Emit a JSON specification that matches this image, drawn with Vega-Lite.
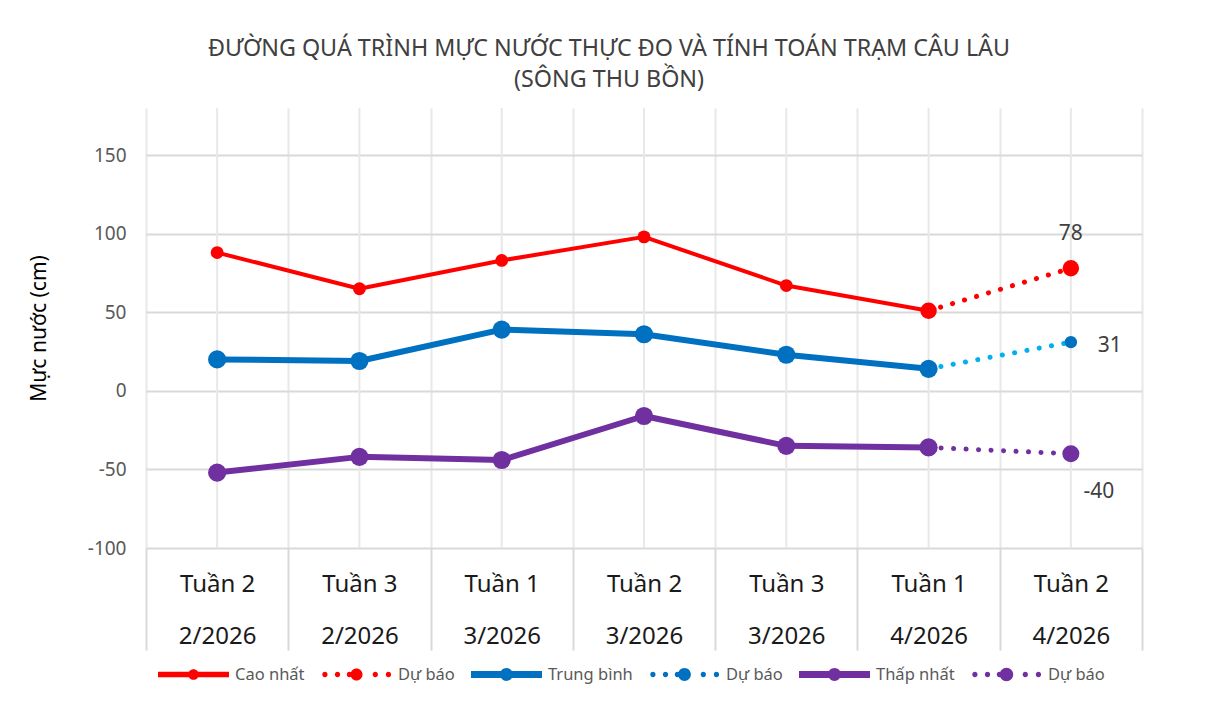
{
  "$schema": "https://vega.github.io/schema/vega-lite/v6.json",
  "width": 996,
  "height": 440,
  "autosize": {"type": "none"},
  "padding": {"left": 146, "top": 108, "right": 69, "bottom": 169},
  "background": "#ffffff",
  "config": {
    "view": {"stroke": null},
    "font": "Noto Sans"
  },
  "title": {
    "text": ["ĐƯỜNG QUÁ TRÌNH MỰC NƯỚC THỰC ĐO VÀ TÍNH TOÁN TRẠM CÂU LÂU", "(SÔNG THU BỒN)"],
    "fontSize": 23.3,
    "fontWeight": "normal",
    "color": "#404040",
    "lineHeight": 31,
    "anchor": "middle",
    "frame": "group",
    "dx": -35,
    "offset": 15
  },
  "datasets": {
    "cats": [
      {"cat": "Tuần 2|2/2026"}, {"cat": "Tuần 3|2/2026"}, {"cat": "Tuần 1|3/2026"}, {"cat": "Tuần 2|3/2026"},
      {"cat": "Tuần 3|3/2026"}, {"cat": "Tuần 1|4/2026"}, {"cat": "Tuần 2|4/2026"}
    ],
    "levels": [
      {"cat": "Tuần 2|2/2026", "series": "cao", "value": 88},
      {"cat": "Tuần 3|2/2026", "series": "cao", "value": 65},
      {"cat": "Tuần 1|3/2026", "series": "cao", "value": 83},
      {"cat": "Tuần 2|3/2026", "series": "cao", "value": 98},
      {"cat": "Tuần 3|3/2026", "series": "cao", "value": 67},
      {"cat": "Tuần 1|4/2026", "series": "cao", "value": 51},
      {"cat": "Tuần 1|4/2026", "series": "cao_db", "value": 51},
      {"cat": "Tuần 2|4/2026", "series": "cao_db", "value": 78},
      {"cat": "Tuần 2|2/2026", "series": "tb", "value": 20},
      {"cat": "Tuần 3|2/2026", "series": "tb", "value": 19},
      {"cat": "Tuần 1|3/2026", "series": "tb", "value": 39},
      {"cat": "Tuần 2|3/2026", "series": "tb", "value": 36},
      {"cat": "Tuần 3|3/2026", "series": "tb", "value": 23},
      {"cat": "Tuần 1|4/2026", "series": "tb", "value": 14},
      {"cat": "Tuần 1|4/2026", "series": "tb_db", "value": 14},
      {"cat": "Tuần 2|4/2026", "series": "tb_db", "value": 31},
      {"cat": "Tuần 2|2/2026", "series": "thap", "value": -52},
      {"cat": "Tuần 3|2/2026", "series": "thap", "value": -42},
      {"cat": "Tuần 1|3/2026", "series": "thap", "value": -44},
      {"cat": "Tuần 2|3/2026", "series": "thap", "value": -16},
      {"cat": "Tuần 3|3/2026", "series": "thap", "value": -35},
      {"cat": "Tuần 1|4/2026", "series": "thap", "value": -36},
      {"cat": "Tuần 1|4/2026", "series": "thap_db", "value": -36},
      {"cat": "Tuần 2|4/2026", "series": "thap_db", "value": -40}
    ]
  },
  "encoding": {
    "x": {
      "field": "cat",
      "type": "nominal",
      "bandPosition": 0.5,
      "scale": {
        "type": "band",
        "domain": ["Tuần 2|2/2026", "Tuần 3|2/2026", "Tuần 1|3/2026", "Tuần 2|3/2026", "Tuần 3|3/2026", "Tuần 1|4/2026", "Tuần 2|4/2026"],
        "paddingInner": 0,
        "paddingOuter": 0
      },
      "axis": {
        "title": null,
        "labelExpr": "split(datum.label, '|')",
        "labelAngle": 0,
        "labelFontSize": 24,
        "labelColor": "#1a1a1a",
        "labelLineHeight": 52,
        "labelBaseline": "alphabetic",
        "labelPadding": -59,
        "labelOverlap": false,
        "labelFlush": false,
        "tickBand": "extent",
        "ticks": true,
        "tickSize": 102,
        "tickColor": "#d9d9d9",
        "tickWidth": 2,
        "grid": true,
        "gridColor": "#e8e8e8",
        "gridWidth": 2,
        "domain": false
      }
    }
  },
  "layer": [
    {
      "data": {"name": "cats"},
      "mark": {"type": "rule", "color": "#e8e8e8", "strokeWidth": 2},
      "encoding": {}
    },
    {
      "data": {"name": "levels"},
      "encoding": {
        "y": {
          "field": "value",
          "type": "quantitative",
          "scale": {"domain": [-100, 180], "nice": false, "zero": false},
          "axis": {
            "title": "Mực nước (cm)",
            "values": [-100, -50, 0, 50, 100, 150],
            "labelExpr": "'' + datum.value",
            "grid": true,
            "gridColor": "#d9d9d9",
            "gridWidth": 2,
            "domain": false,
            "ticks": false,
            "labelPadding": 20,
            "labelFontSize": 19,
            "labelColor": "#595959",
            "titleFontSize": 21,
            "titleFontWeight": "normal",
            "titleColor": "#000000",
            "titlePadding": 38
          }
        }
      },
      "layer": [
        {
          "transform": [{"filter": "indexof(['cao','tb','thap'], datum.series) >= 0"}],
          "mark": {"type": "line", "strokeCap": "round", "strokeJoin": "round"},
          "encoding": {
            "stroke": {
              "field": "series", "type": "nominal",
              "scale": {"domain": ["cao", "tb", "thap", "cao_db", "tb_db", "thap_db"], "range": ["#ff0000", "#0070c0", "#7030a0", "#ff0000", "#00b0f0", "#7030a0"]},
              "legend": null
            },
            "strokeWidth": {
              "field": "series", "type": "nominal",
              "scale": {"type": "ordinal", "domain": ["cao", "tb", "thap"], "range": [4, 6, 6]},
              "legend": null
            }
          }
        },
        {
          "transform": [{"filter": "indexof(['cao_db','tb_db','thap_db'], datum.series) >= 0"}],
          "mark": {"type": "line", "strokeWidth": 5, "strokeCap": "round", "strokeDash": [0.1, 12.4]},
          "encoding": {
            "stroke": {
              "field": "series", "type": "nominal",
              "scale": {"domain": ["cao", "tb", "thap", "cao_db", "tb_db", "thap_db"], "range": ["#ff0000", "#0070c0", "#7030a0", "#ff0000", "#00b0f0", "#7030a0"]},
              "legend": null
            }
          }
        },
        {
          "mark": {"type": "point", "filled": true, "opacity": 1, "strokeWidth": 0},
          "encoding": {
            "fill": {
              "field": "series", "type": "nominal",
              "scale": {"domain": ["cao", "tb", "thap", "cao_db", "tb_db", "thap_db"], "range": ["#ff0000", "#0070c0", "#7030a0", "#ff0000", "#0070c0", "#7030a0"]},
              "legend": null
            },
            "size": {
              "field": "series", "type": "nominal",
              "scale": {"type": "ordinal", "domain": ["cao", "tb", "thap", "cao_db", "tb_db", "thap_db"], "range": [165, 330, 330, 270, 154, 290]},
              "legend": null
            }
          }
        },
        {
          "transform": [{"filter": "false"}],
          "mark": {"type": "point", "filled": true, "opacity": 1, "strokeWidth": 0},
          "encoding": {
            "color": {
              "field": "series", "type": "nominal",
              "scale": {"domain": ["cao", "cao_db", "tb", "tb_db", "thap", "thap_db"], "range": ["#ff0000", "#ff0000", "#0070c0", "#0070c0", "#7030a0", "#7030a0"]},
              "legend": {
                "title": null,
                "orient": "bottom",
                "direction": "horizontal",
                "symbolSize": 5041,
                "symbolStrokeWidth": 0,
                "symbolOpacity": 1,
                "labelFontSize": 16.5,
                "labelColor": "#595959",
                "labelOffset": 6,
                "columnPadding": 16,
                "padding": 12,
                "offset": -24,
                "labelExpr": "datum.value == 'cao' ? 'Cao nhất' : datum.value == 'tb' ? 'Trung bình' : datum.value == 'thap' ? 'Thấp nhất' : 'Dự báo'"
              }
            },
            "shape": {
              "field": "series", "type": "nominal",
              "scale": {
                "domain": ["cao", "cao_db", "tb", "tb_db", "thap", "thap_db"],
                "range": [
                  "M-1,-0.08L1,-0.08L1,0.08L-1,0.08Z M-0.15,0A0.15,0.15 0 1,1 0.15,0A0.15,0.15 0 1,1 -0.15,0Z",
                  "M-0.965,0A0.075,0.075 0 1,1 -0.815,0A0.075,0.075 0 1,1 -0.965,0Z M-0.61,0A0.075,0.075 0 1,1 -0.46,0A0.075,0.075 0 1,1 -0.61,0Z M-0.275,0A0.075,0.075 0 1,1 -0.125,0A0.075,0.075 0 1,1 -0.275,0Z M0.455,0A0.075,0.075 0 1,1 0.605,0A0.075,0.075 0 1,1 0.455,0Z M0.825,0A0.075,0.075 0 1,1 0.975,0A0.075,0.075 0 1,1 0.825,0Z M-0.17,0A0.17,0.17 0 1,1 0.17,0A0.17,0.17 0 1,1 -0.17,0Z",
                  "M-1,-0.1L1,-0.1L1,0.1L-1,0.1Z M-0.18,0A0.18,0.18 0 1,1 0.18,0A0.18,0.18 0 1,1 -0.18,0Z",
                  "M-0.965,0A0.075,0.075 0 1,1 -0.815,0A0.075,0.075 0 1,1 -0.965,0Z M-0.61,0A0.075,0.075 0 1,1 -0.46,0A0.075,0.075 0 1,1 -0.61,0Z M-0.275,0A0.075,0.075 0 1,1 -0.125,0A0.075,0.075 0 1,1 -0.275,0Z M0.455,0A0.075,0.075 0 1,1 0.605,0A0.075,0.075 0 1,1 0.455,0Z M0.825,0A0.075,0.075 0 1,1 0.975,0A0.075,0.075 0 1,1 0.825,0Z M-0.18,0A0.18,0.18 0 1,1 0.18,0A0.18,0.18 0 1,1 -0.18,0Z",
                  "M-1,-0.1L1,-0.1L1,0.1L-1,0.1Z M-0.18,0A0.18,0.18 0 1,1 0.18,0A0.18,0.18 0 1,1 -0.18,0Z",
                  "M-0.965,0A0.075,0.075 0 1,1 -0.815,0A0.075,0.075 0 1,1 -0.965,0Z M-0.61,0A0.075,0.075 0 1,1 -0.46,0A0.075,0.075 0 1,1 -0.61,0Z M-0.275,0A0.075,0.075 0 1,1 -0.125,0A0.075,0.075 0 1,1 -0.275,0Z M0.455,0A0.075,0.075 0 1,1 0.605,0A0.075,0.075 0 1,1 0.455,0Z M0.825,0A0.075,0.075 0 1,1 0.975,0A0.075,0.075 0 1,1 0.825,0Z M-0.19,0A0.19,0.19 0 1,1 0.19,0A0.19,0.19 0 1,1 -0.19,0Z"
                ]
              }
            }
          }
        },
        {
          "transform": [{"filter": "datum.series == 'cao_db' && datum.cat == 'Tuần 2|4/2026'"}],
          "mark": {"type": "text", "fontSize": 21, "color": "#404040", "baseline": "middle", "align": "center", "dy": -34},
          "encoding": {"text": {"field": "value", "type": "nominal"}}
        },
        {
          "transform": [{"filter": "datum.series == 'tb_db' && datum.cat == 'Tuần 2|4/2026'"}],
          "mark": {"type": "text", "fontSize": 21, "color": "#404040", "baseline": "middle", "align": "center", "dx": 39, "dy": 4},
          "encoding": {"text": {"field": "value", "type": "nominal"}}
        },
        {
          "transform": [{"filter": "datum.series == 'thap_db' && datum.cat == 'Tuần 2|4/2026'"}],
          "mark": {"type": "text", "fontSize": 21, "color": "#404040", "baseline": "middle", "align": "center", "dx": 28, "dy": 38},
          "encoding": {"text": {"field": "value", "type": "nominal"}}
        }
      ]
    }
  ]
}
